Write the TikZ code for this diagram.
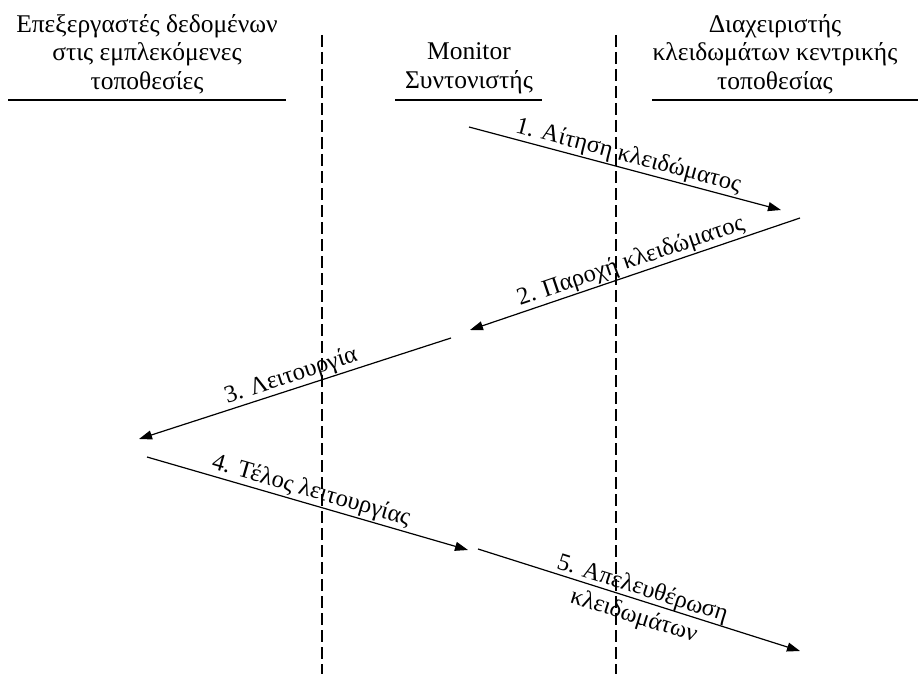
\documentclass[tikz,border=0pt]{standalone}
\usepackage{fontspec}
\setmainfont{Liberation Serif}
\usetikzlibrary{arrows.meta}
\begin{document}
\begin{tikzpicture}[x=1pt,y=-1pt,
  txt/.style={font=\fontsize{24.5}{28.5}\selectfont},
  head/.style={font=\fontsize{25.5}{28.5}\selectfont, align=center, anchor=south, inner sep=0pt},
  rule/.style={line width=1.3pt},
  lane/.style={line width=1.2pt, dash pattern=on 12pt off 5pt},
  msg/.style={line width=1.2pt, -{Triangle[length=13pt,width=9pt]}},
  msglbl/.style={txt, sloped, midway, above, inner sep=1pt}
]
\useasboundingbox (0,0) rectangle (918,674);

% column headings
\node[head] (hproc) at (147,94) {Επεξεργαστές δεδομένων\\στις εμπλεκόμενες\\τοποθεσίες};
\node[head] (hmon)  at (469,94) {Monitor\\Συντονιστής};
\node[head] (hlock) at (775,94) {Διαχειριστής\\κλειδωμάτων κεντρικής\\τοποθεσίας};

% heading rules
\draw[rule] (8,100) -- (286,100);
\draw[rule] (395,100) -- (542,100);
\draw[rule] (652,100) -- (918,100);

% lane separators
\coordinate (s1t) at (322,35);  \coordinate (s1b) at (322,674);
\coordinate (s2t) at (616,35);  \coordinate (s2b) at (616,674);
\draw[lane] (s1t) -- (s1b);
\draw[lane] (s2t) -- (s2b);

% message end points
\coordinate (m1a) at (469,127); \coordinate (m1b) at (781,210);
\coordinate (m2a) at (800,218); \coordinate (m2b) at (470,330);
\coordinate (m3a) at (451,338); \coordinate (m3b) at (139,439);
\coordinate (m4a) at (147,457); \coordinate (m4b) at (468,550);
\coordinate (m5a) at (478,549); \coordinate (m5b) at (800,651);

\draw[msg] (m1a) -- node[msglbl] {1. Αίτηση κλειδώματος} (m1b);
\draw[msg] (m2a) -- node[msglbl] {2. Παροχή κλειδώματος} (m2b);
\draw[msg] (m3a) -- node[msglbl] {3. Λειτουργία} (m3b);
\draw[msg] (m4a) -- node[msglbl] {4. Τέλος λειτουργίας} (m4b);
\draw[msg] (m5a) -- node[txt, sloped, midway, align=center, inner sep=0pt, yshift=-3pt] {5. Απελευθέρωση\\κλειδωμάτων} (m5b);
\end{tikzpicture}
\end{document}
